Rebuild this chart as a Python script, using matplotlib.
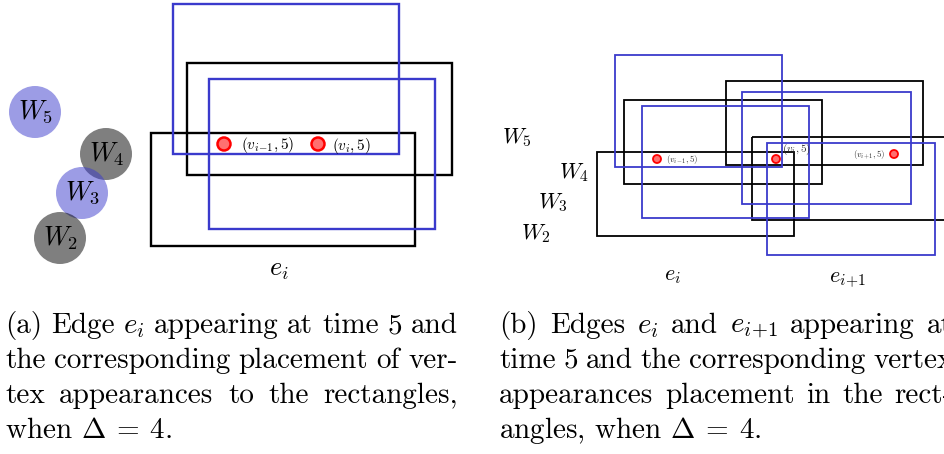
import matplotlib.pyplot as plt
from matplotlib.patches import Rectangle, Circle

plt.rcParams['mathtext.fontset'] = 'cm'
plt.rcParams['font.family'] = 'cmr10'
plt.rcParams['axes.unicode_minus'] = False

BLUE = '#3a3acc'

# --- panel (a): rectangles as (x0, y0, x1, y1) in pixel space ---
rects_a_black = [(151, 133, 415, 246), (187, 63, 452, 175)]
rects_a_blue = [(173, 4, 399, 154), (209, 79, 435, 229)]
dots_a = [(224, 144), (318, 144)]
dot_labels_a = [r'$(v_{i\!-\!1},5)$', r'$(v_i,5)$']
dot_label_pos_a = [(241, 145), (332, 146)]

# W circles (label, centre, colour)
w_labels = [r'$W_5$', r'$W_4$', r'$W_3$', r'$W_2$']
w_centres = [(35, 112), (106, 154), (82, 193), (60, 238)]
w_colours = ['blue', 'gray', 'blue', 'gray']

# --- panel (b) ---
rects_b_black = [(726, 81, 923, 165), (624, 100, 822, 184),
                 (752, 137, 960, 220), (597, 152, 794, 236)]
rects_b_blue = [(615, 55, 782, 167), (742, 92, 911, 204),
                (642, 106, 809, 218), (767, 143, 935, 255)]
dots_b = [(657, 159), (776, 159), (894, 154)]
dot_labels_b = [r'$(v_{i\!-\!1},5)$', r'$(v_i,5)$', r'$(v_{i\!+\!1},5)$']
dot_label_pos_b = [(666, 160), (782, 149), (853, 155)]
dot_label_size_b = [6.5, 8, 6.5]
w_labels_b = [r'$W_5$', r'$W_4$', r'$W_3$', r'$W_2$']
w_pos_b = [(517, 138), (574, 173), (553, 203), (536, 234)]

captions = {
    'a': ['(a) Edge $e_i$ appearing at time 5 and',
          'the corresponding placement of ver-',
          'tex appearances to the rectangles,',
          r'when $\Delta\:=\:4$.'],
    'b': [r'(b) Edges $e_i$ and $e_{i\!+\!1}$ appearing at',
          'time 5 and the corresponding vertex',
          'appearances placement in the rect-',
          r'angles, when $\Delta\:=\:4$.'],
}

fig = plt.figure(figsize=(9.45, 4.54), dpi=100)
ax = fig.add_axes([0, 0, 1, 1])
ax.set_xlim(0, 945)
ax.set_ylim(454, 0)
ax.axis('off')


def rect(r, color, lw):
    x0, y0, x1, y1 = r
    ax.add_patch(Rectangle((x0, y0), x1 - x0, y1 - y0, fill=False,
                           edgecolor=color, lw=lw))


# panel (a)
for c, lab, col in zip(w_centres, w_labels, w_colours):
    fc = BLUE if col == 'blue' else 'black'
    ax.add_patch(Circle(c, 26, facecolor=fc, alpha=0.5, lw=0))
    ax.text(c[0] + 1, c[1], lab, fontsize=19, ha='center', va='center')

for r in rects_a_black:
    rect(r, 'black', 1.7)
for r in rects_a_blue:
    rect(r, BLUE, 1.7)
for d in dots_a:
    ax.add_patch(Circle(d, 6.5, facecolor='#ff7070', edgecolor='red', lw=1.8))
for p, lab in zip(dot_label_pos_a, dot_labels_a):
    ax.text(p[0], p[1], lab, fontsize=11, ha='left', va='center')
ax.text(279, 270, '$e_i$', fontsize=19, ha='center', va='center')

# panel (b)
for r in rects_b_black:
    rect(r, 'black', 1.3)
for r in rects_b_blue:
    rect(r, BLUE, 1.3)
for d in dots_b:
    ax.add_patch(Circle(d, 4, facecolor='#ff7070', edgecolor='red', lw=1.3))
for p, lab, s in zip(dot_label_pos_b, dot_labels_b, dot_label_size_b):
    ax.text(p[0], p[1], lab, fontsize=s, ha='left', va='center', color='#333333')
for p, lab in zip(w_pos_b, w_labels_b):
    ax.text(p[0], p[1], lab, fontsize=16, ha='center', va='center')
ax.text(672, 276, '$e_i$', fontsize=16, ha='center', va='center')
ax.text(848, 281, r'$e_{i\!+\!1}$', fontsize=16, ha='center', va='center')

# captions, justified
renderer = fig.canvas.get_renderer()
FS = 21


def word_width(w):
    t = ax.text(0, 0, w, fontsize=FS)
    bb = t.get_window_extent(renderer)
    t.remove()
    return bb.width


def caption(lines, x0, x1, y0):
    for k, line in enumerate(lines):
        y = y0 + 35 * k
        if k == len(lines) - 1:
            ax.text(x0, y, line, fontsize=FS, ha='left', va='baseline')
            continue
        words = line.split(' ')
        widths = [word_width(w) for w in words]
        gap = (x1 - x0 - sum(widths)) / (len(words) - 1)
        x = x0
        for w, wd in zip(words, widths):
            ax.text(x, y, w, fontsize=FS, ha='left', va='baseline')
            x += wd + gap


caption(captions['a'], 5, 458, 333)
caption(captions['b'], 499, 953, 333)

fig.savefig('out.png', dpi=100)
